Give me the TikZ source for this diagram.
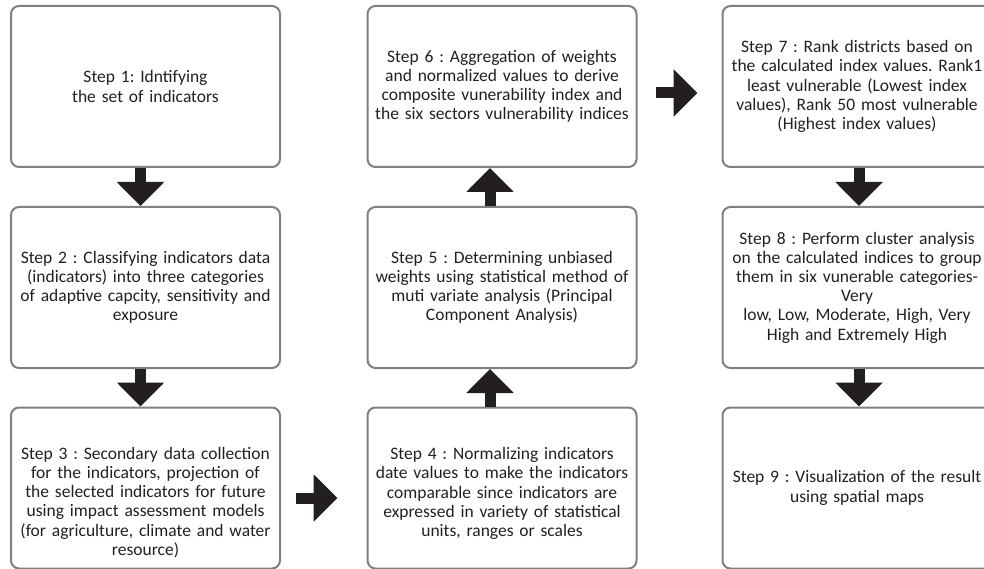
\documentclass[tikz,border=0pt]{standalone}
\usepackage{fontspec}
\setmainfont{Carlito}
\usetikzlibrary{arrows.meta}
\definecolor{frame}{RGB}{128, 128, 128}
\definecolor{ink}{RGB}{35, 31, 32}

\begin{document}
\begin{tikzpicture}[x=1pt, y=-1pt,
    stepbox/.style={draw=frame, line width=2pt, rounded corners=8pt, minimum width=269pt, minimum height=161pt,
      text width=268pt, inner xsep=0.5pt, inner ysep=2pt, align=center, text=ink, font=\frenchspacing\fontsize{17.5}{19.2}\selectfont},
    bigarrow/.style={ink, line width=11pt, -{Triangle[length=24pt, width=46pt]}}]
  \useasboundingbox (0,0) rectangle (984,569);
  % left column
  \node[stepbox] (s1) at (145.5,86.5) {Step 1: Idntifying\\ the set of indicators};
  \node[stepbox] (s2) at (145.5,287.5) {Step 2 : Classifying indicators data\\ (indicators) into three categories\\ of adaptive capcity, sensitivity and\\ exposure};
  \node[stepbox] (s3) at (145.5,488) {\rule{0pt}{41pt}Step 3 : Secondary data collection\\ for the indicators, projection of\\ the selected indicators for future\\ using impact assessment models\\ (for agriculture, climate and water\\ resource)};
  % middle column
  \node[stepbox] (s4) at (502,488) {\rule{0pt}{23pt}Step 4 : Normalizing indicators\\ date values to make the indicators\\ comparable since indicators are\\ expressed in variety of statistical\\ units, ranges or scales};
  \node[stepbox] (s5) at (502,287.5) {Step 5 : Determining unbiased\\ weights using statistical method of\\ muti variate analysis (Principal\\ Component Analysis)};
  \node[stepbox] (s6) at (502,86.5) {Step 6 : Aggregation of weights\\ and normalized values to derive\\ composite vunerability index and\\ the six sectors vulnerability indices};
  % right column
  \node[stepbox] (s7) at (857,86.5) {Step 7 : Rank districts based on\\ the calculated index values. Rank1\\ least vulnerable (Lowest index\\ values), Rank 50 most vulnerable\\ (Highest index values)};
  \node[stepbox] (s8) at (857,287.5) {Step 8 : Perform cluster analysis\\ on the calculated indices to group\\ them in six vunerable categories-\\ Very\\ low, Low, Moderate, High, Very\\ High and Extremely High};
  \node[stepbox] (s9) at (857,488) {Step 9 : Visualization of the result\\ using spatial maps};
  % arrows
  \draw[bigarrow] ([xshift=-5pt]s1.south) -- ([xshift=-5pt]s2.north);
  \draw[bigarrow] ([xshift=-5pt]s2.south) -- ([xshift=-5pt]s3.north);
  \draw[bigarrow] ([xshift=15pt, yshift=-10pt]s3.east) -- ([xshift=-29pt, yshift=-10pt]s4.west);
  \draw[bigarrow] ([xshift=-12pt]s4.north) -- ([xshift=-12pt]s5.south);
  \draw[bigarrow] ([xshift=-12pt]s5.north) -- ([xshift=-12pt]s6.south);
  \draw[bigarrow] ([xshift=18pt, yshift=-6.5pt]s6.east) -- ([xshift=-24pt, yshift=-6.5pt]s7.west);
  \draw[bigarrow] ([xshift=2pt]s7.south) -- ([xshift=2pt]s8.north);
  \draw[bigarrow] ([xshift=2pt]s8.south) -- ([xshift=2pt]s9.north);
\end{tikzpicture}
\end{document}
